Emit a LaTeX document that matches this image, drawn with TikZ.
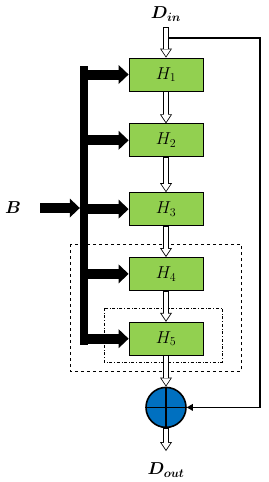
\documentclass[tikz,border=0pt]{standalone}
\usepackage{bm}
\usetikzlibrary{arrows.meta,positioning}
\definecolor{hgreen}{HTML}{92D050}
\definecolor{sumblue}{HTML}{0070C0}
\begin{document}
\begin{tikzpicture}[
    x=1pt, y=-1pt,
    node distance=32pt,
    hbox/.style={rectangle, draw, line width=0.8pt, fill=hgreen, minimum width=74pt, minimum height=33pt, font=\LARGE},
    lbl/.style={font=\LARGE, inner sep=1pt},
    hollow/.style={line width=5.6pt, -{Triangle[length=9pt, width=12pt, line width=0pt]},
        postaction={draw=white, line width=4pt, -{Triangle[length=6.76pt, width=9pt, line width=0pt]}, shorten <=0.8pt, shorten >=1.44pt}},
    bigarrow/.style={line width=10pt, -{Triangle[length=10pt, width=19pt, line width=0pt]}},
    feedback/.style={line width=1.8pt, -{Triangle[length=6pt, width=7pt, line width=0pt]}},
    sumnode/.style={circle, draw, line width=1.6pt, fill=sumblue, minimum size=40pt, inner sep=0pt},
]
\useasboundingbox (0,0) rectangle (268,482);

\node[hbox] (h1) at (166,74.5) {$H_1$};
\node[hbox, below=of h1] (h2) {$H_2$};
\node[hbox, below=35pt of h2] (h3) {$H_3$};
\node[hbox, below=31pt of h3] (h4) {$H_4$};
\node[hbox, below=31pt of h4] (h5) {$H_5$};
\node[sumnode, below=31pt of h5] (sum) {};
\draw[line width=1.6pt] (sum.north) -- (sum.south) (sum.west) -- (sum.east);

\node[lbl] (din) at (166,14) {$\bm{D_{in}}$};
\node[lbl] (dout) at (166,470) {$\bm{D_{out}}$};
\node[lbl] (blab) at (13,208) {$\bm{B}$};
\node[fill=black, minimum width=8pt, minimum height=279pt, inner sep=0pt] (bar) at (84,205.5) {};

\coordinate (inp) at (166,27);
\coordinate (outp) at (166,451);
\coordinate (tap) at (169,38);
\coordinate (corner) at (260,38);

\draw[dashed] (70,244) rectangle (241,371);
\draw[dash dot] (104,308) rectangle (222,362);

\draw[hollow] (inp) -- (h1);
\foreach \i/\j in {1/2, 2/3, 3/4, 4/5}
    \draw[hollow] (h\i) -- (h\j);
\draw[hollow] (h5) -- (sum);
\draw[hollow] (sum) -- (outp);

\foreach \i in {1,...,5}
    \draw[bigarrow] (h\i.west -| bar.east) -- (h\i.west);
\draw[bigarrow, shorten <=18pt] (blab.east) -- (blab.east -| bar.west);

\draw[feedback] (tap) -- (corner) |- (sum.east);

\end{tikzpicture}
\end{document}
